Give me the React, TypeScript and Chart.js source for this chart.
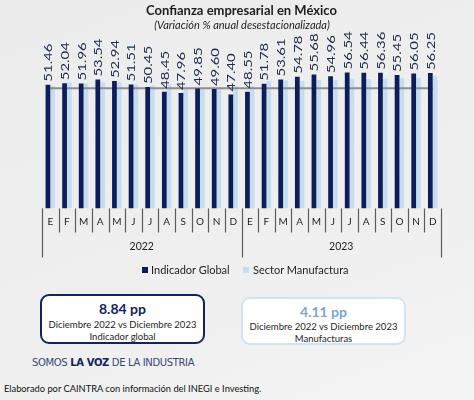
import React, { useEffect, useRef } from "react";
import { Chart, registerables } from "chart.js";

Chart.register(...registerables);

const months = ["E", "F", "M", "A", "M", "J", "J", "A", "S", "O", "N", "D", "E", "F", "M", "A", "M", "J", "J", "A", "S", "O", "N", "D"];
const years = ["2022", "2023"];
const indicadorGlobal = [51.46, 52.04, 51.96, 53.54, 52.94, 51.51, 50.45, 48.45, 47.96, 49.85, 49.6, 47.4, 48.55, 51.78, 53.61, 54.78, 55.68, 54.96, 56.54, 56.44, 56.36, 55.45, 56.05, 56.25];
const sectorManufactura = [50.9, 52.4, 51.9, 52.3, 52.4, 51.5, 51.1, 51.6, 50.4, 50.0, 50.3, 50.8, 50.9, 53.1, 53.2, 53.0, 53.4, 53.5, 53.9, 53.8, 54.0, 54.1, 54.3, 54.91];
const referenceLine = months.map(() => 50);

const DARK = "#0c1d5a";
const LIGHT = "#c6dcf1";

const labelPlugin = {
  id: "valueLabels",
  afterDatasetsDraw(chart: any) {
    const ctx = chart.ctx;
    const meta = chart.getDatasetMeta(0);
    ctx.save();
    ctx.fillStyle = "#1f2a48";
    ctx.font = "10.5px Lato";
    ctx.textAlign = "left";
    ctx.textBaseline = "middle";
    meta.data.forEach((el: any, i: number) => {
      ctx.save();
      ctx.translate(el.x + 1, el.y - 3);
      ctx.rotate(-Math.PI / 2);
      ctx.scale(1.42, 1);
      ctx.fillText(indicadorGlobal[i].toFixed(2), 0, 0);
      ctx.restore();
    });
    ctx.restore();
  },
};

const axisPlugin = {
  id: "twoLevelAxis",
  afterDraw(chart: any) {
    const ctx = chart.ctx;
    const xs = chart.scales.x;
    const bottom = chart.chartArea.bottom;
    const n = months.length;
    const w = xs.getPixelForValue(1) - xs.getPixelForValue(0);
    const left = xs.getPixelForValue(0) - w / 2;
    ctx.save();
    ctx.strokeStyle = "#5c5c5c";
    ctx.lineWidth = 1.2;
    for (let i = 0; i <= n; i++) {
      const x = Math.round(left + i * w) + 0.5;
      const len = i % 12 === 0 ? 49 : 24;
      ctx.beginPath();
      ctx.moveTo(x, bottom);
      ctx.lineTo(x, bottom + len);
      ctx.stroke();
    }
    ctx.fillStyle = "#1e1e1e";
    ctx.font = "10px Lato";
    ctx.textAlign = "center";
    ctx.textBaseline = "middle";
    months.forEach((m, i) => {
      ctx.fillText(m, xs.getPixelForValue(i), bottom + 13.5);
    });
    ctx.font = "10.5px Lato";
    years.forEach((y, k) => {
      const x0 = left + k * 12 * w;
      ctx.fillText(y, x0 + 6 * w, bottom + 38.5);
    });
    ctx.restore();
  },
};

function ChartCanvas() {
  const ref = useRef<HTMLCanvasElement | null>(null);
  useEffect(() => {
    if (!ref.current) return;
    const chart = new Chart(ref.current, {
      type: "bar",
      data: {
        labels: months,
        datasets: [
          {
            type: "bar",
            label: "Indicador Global",
            data: indicadorGlobal,
            backgroundColor: DARK,
            categoryPercentage: 0.57,
            barPercentage: 1.0,
            order: 0,
          } as any,
          {
            type: "line",
            label: "Referencia",
            data: referenceLine,
            borderColor: "#8e8e8e",
            borderWidth: 2,
            pointRadius: 0,
            fill: false,
            order: 1,
          } as any,
          {
            type: "bar",
            label: "Sector Manufactura",
            data: sectorManufactura,
            backgroundColor: LIGHT,
            categoryPercentage: 0.57,
            barPercentage: 1.0,
            order: 2,
          } as any,
        ],
      },
      options: {
        responsive: false,
        animation: false,
        layout: { padding: { left: 42, right: 33, top: 40, bottom: 81.5 } },
        plugins: { legend: { display: false }, tooltip: { enabled: false } },
        scales: {
          x: { display: false, grid: { display: false } },
          y: { display: false, min: 0, max: 70 },
        },
      },
      plugins: [labelPlugin, axisPlugin],
    });
    return () => chart.destroy();
  }, []);
  return <canvas ref={ref} width={474} height={290} style={{ position: "absolute", left: 0, top: 0 }} />;
}

export default function App() {
  const abs = (s: any) => ({ position: "absolute" as const, ...s });
  return (
    <div
      style={{
        position: "absolute",
        left: 0,
        top: 0,
        width: 474,
        height: 400,
        overflow: "hidden",
        background: "linear-gradient(160deg, #ececec 0%, #efefef 60%, #f4f4f4 100%)",
        fontFamily: "Lato, sans-serif",
      }}
    >
      <ChartCanvas />
      <div style={abs({ left: 0, width: 483, top: 2, textAlign: "center", fontSize: 13, fontWeight: 700, color: "#1e1e1e", lineHeight: "16px" })}>
        Confianza empresarial en México
      </div>
      <div style={abs({ left: 0, width: 484, top: 18, textAlign: "center", fontSize: 11, fontStyle: "italic", color: "#1e1e1e", lineHeight: "14px" })}>
        (Variación % anual desestacionalizada)
      </div>

      <div style={abs({ left: 142, top: 267, width: 6, height: 6, background: DARK })} />
      <div style={abs({ left: 151, top: 263, fontSize: 11, lineHeight: "14px", color: "#1e1e1e" })}>Indicador Global</div>
      <div style={abs({ left: 243, top: 267, width: 6, height: 6, background: LIGHT })} />
      <div style={abs({ left: 253, top: 263, fontSize: 11, lineHeight: "14px", color: "#1e1e1e" })}>Sector Manufactura</div>

      <div
        style={abs({
          left: 40,
          top: 294,
          width: 161,
          height: 46,
          border: "2.5px solid #13245c",
          borderRadius: 9,
          background: "#ffffff",
          textAlign: "center",
          color: "#1e1e1e",
        })}
      >
        <div style={{ fontSize: 14, fontWeight: 700, color: "#13245c", lineHeight: "16px", marginTop: 5 }}>8.84 pp</div>
        <div style={{ fontSize: 9.5, lineHeight: "12px", marginTop: 2 }}>Diciembre 2022 vs Diciembre 2023</div>
        <div style={{ fontSize: 9.5, lineHeight: "12px" }}>Indicador global</div>
      </div>

      <div
        style={abs({
          left: 241,
          top: 297,
          width: 161,
          height: 44,
          border: "2.5px solid #d3e3f1",
          borderRadius: 9,
          background: "#ffffff",
          textAlign: "center",
          color: "#1e1e1e",
        })}
      >
        <div style={{ fontSize: 14, fontWeight: 700, color: "#7aa7d0", lineHeight: "16px", marginTop: 5 }}>4.11 pp</div>
        <div style={{ fontSize: 9.5, lineHeight: "12px", marginTop: 1 }}>Diciembre 2022 vs Diciembre 2023</div>
        <div style={{ fontSize: 9.5, lineHeight: "12px" }}>Manufacturas</div>
      </div>

      <div style={abs({ left: 32, top: 356, fontSize: 10, lineHeight: "14px", color: "#3a4676", fontFamily: "'DejaVu Sans', sans-serif", letterSpacing: -0.35, whiteSpace: "nowrap" })}>
        SOMOS <span style={{ fontWeight: 700, color: "#13245c" }}>LA VOZ</span> DE LA INDUSTRIA
      </div>

      <div style={abs({ left: 4, top: 382, fontSize: 9.3, lineHeight: "14px", color: "#111", whiteSpace: "nowrap" })}>
        Elaborado por CAINTRA con información del INEGI e Investing.
      </div>
    </div>
  );
}
